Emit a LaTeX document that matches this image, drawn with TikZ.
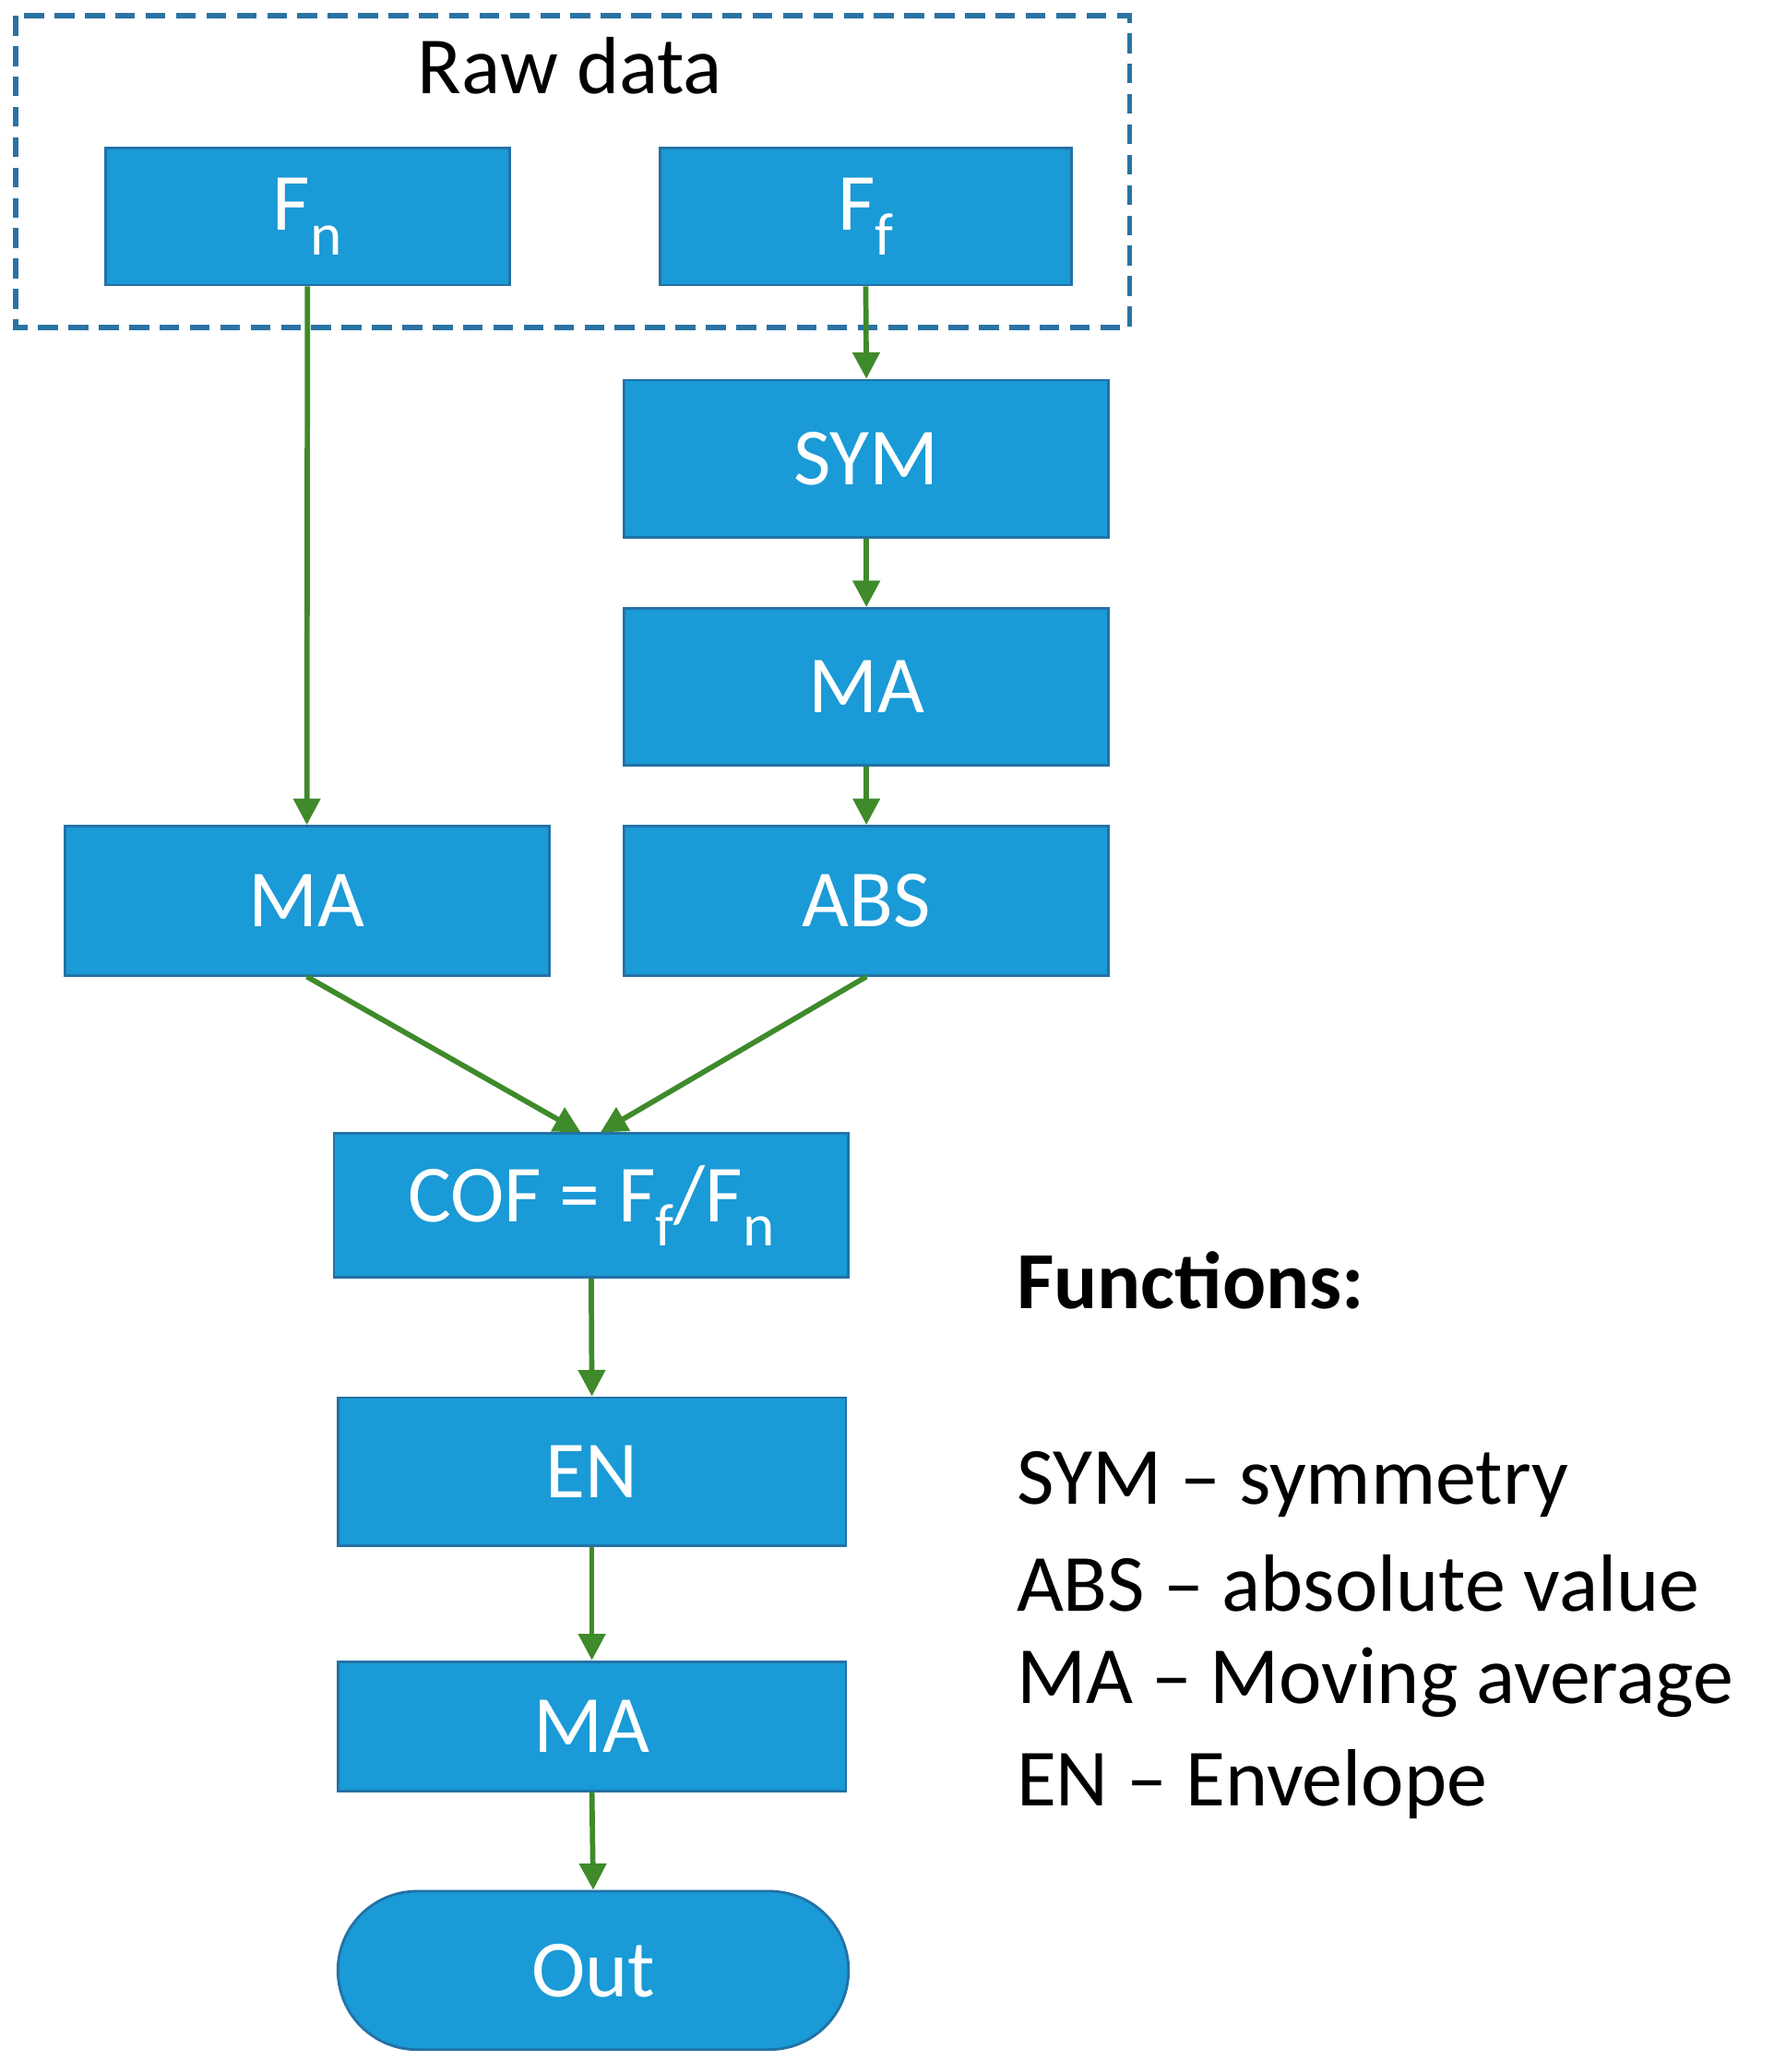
\documentclass[tikz,border=0pt]{standalone}
\usepackage{fontspec}
\setmainfont{Carlito}
\usetikzlibrary{arrows.meta,calc}
\definecolor{boxfill}{HTML}{1A9AD6}
\definecolor{boxline}{HTML}{2272A6}
\definecolor{dashcol}{HTML}{2A73A3}
\definecolor{arr}{HTML}{3F8A2A}
\newcommand{\sbs}[1]{\raisebox{-0.3em}{\fontsize{26}{30}\selectfont #1}}
\begin{document}
\begin{tikzpicture}[x=0.02cm,y=-0.02cm,
  box/.style={draw=boxline,line width=0.04cm,fill=boxfill,text=white,inner sep=0pt,font=\fontsize{35}{42}\selectfont},
  ar/.style={draw=arr,line width=0.08cm,-{Triangle[length=0.4cm,width=0.4cm]}},
  lab/.style={anchor=west,inner sep=0pt,font=\fontsize{35}{42}\selectfont}]
\useasboundingbox (0,0) rectangle (1344,1570);
\draw[draw=dashcol,line width=0.08cm,dash pattern=on 0.3cm off 0.16cm] (12,12) rectangle (856,248);
\node[inner sep=0pt,font=\fontsize{35}{42}\selectfont] (raw) at (432,50) {Raw data};
\node[box,minimum width=6.12cm,minimum height=2.08cm] (fn) at (233,164) {F\sbs{n}};
\node[box,minimum width=6.24cm,minimum height=2.08cm] (ff) at (656,164) {F\sbs{f}};
\node[box,minimum width=7.34cm,minimum height=2.38cm] (sym) at (656.5,347.5) {SYM};
\node[box,minimum width=7.34cm,minimum height=2.38cm] (mar) at (656.5,520.5) {MA};
\node[box,minimum width=7.34cm,minimum height=2.26cm] (abs) at (656.5,682.5) {ABS};
\node[box,minimum width=7.34cm,minimum height=2.26cm] (mal) at (232.5,682.5) {MA};
\node[box,minimum width=7.8cm,minimum height=2.18cm] (cof) at (448,913.5) {COF = F\sbs{f}/F\sbs{n}};
\node[box,minimum width=7.7cm,minimum height=2.24cm] (en) at (448.5,1115) {EN};
\node[box,minimum width=7.7cm,minimum height=1.96cm] (mab) at (448.5,1308) {MA};
\node[box,minimum width=7.74cm,minimum height=2.4cm,rounded corners=1.2cm] (out) at (449.5,1493) {Out};
\coordinate (cl) at ($(cof.north)+(-8,0)$);
\coordinate (cr) at ($(cof.north)+(7,0)$);
\draw[ar] (fn.south) -- (mal.north);
\draw[ar] (ff.south) -- (sym.north);
\draw[ar] (sym.south) -- (mar.north);
\draw[ar] (mar.south) -- (abs.north);
\draw[ar] (mal.south) -- (cl);
\draw[ar] (abs.south) -- (cr);
\draw[ar] (cof.south) -- (en.north);
\draw[ar] (en.south) -- (mab.north);
\draw[ar] (mab.south) -- (out.north);
\node[lab,font=\fontsize{35}{42}\selectfont\bfseries] (fun) at (770,970) {Functions:};
\node[lab] (l1) at (770,1125) {SYM – symmetry};
\node[lab] (l2) at (770,1200) {ABS – absolute value};
\node[lab] (l3) at (770,1275) {MA – Moving average};
\node[lab] (l4) at (770,1352) {EN – Envelope};
\end{tikzpicture}
\end{document}
